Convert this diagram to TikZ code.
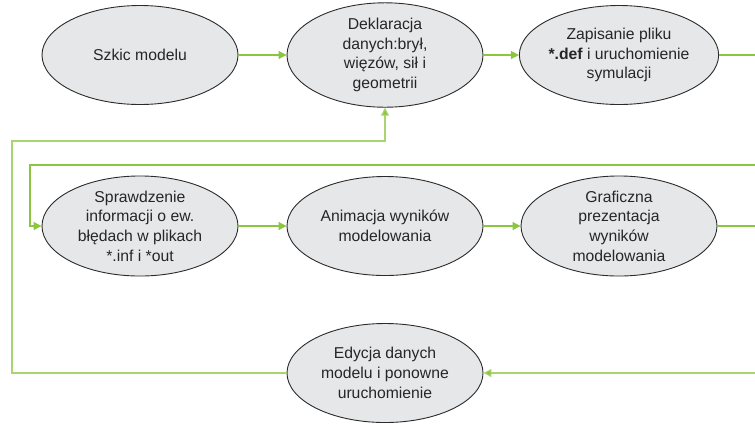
\documentclass[tikz,border=0pt]{standalone}
\usepackage{fontspec}
\setmainfont{Liberation Sans}
\usetikzlibrary{shapes.geometric,arrows.meta}
\definecolor{gfill}{HTML}{E6E7E8}
\definecolor{gline}{HTML}{8CC63F}
\definecolor{gpale}{HTML}{A9D46F}
\definecolor{edge}{HTML}{2B2B2B}
\tikzset{
  proc/.style={ellipse, draw=edge, line width=0.9bp, fill=gfill, minimum width=196bp, minimum height=99bp, inner sep=0pt, align=center, text=black!85, font=\fontsize{15.8}{19.8}\selectfont},
  flow/.style={draw=gline, line width=1.1bp, -{Triangle[length=8bp,width=8bp]}},
  flowpale/.style={draw=gpale, line width=1.1bp, -{Triangle[length=8bp,width=8bp,fill=gline]}},
  plain/.style={draw=gline, line width=1.1bp},
  plainpale/.style={draw=gpale, line width=1.1bp}
}
\begin{document}
\begin{tikzpicture}[x=1bp,y=-1bp]
\useasboundingbox (0,0) rectangle (755,424);
\node[proc] (a) at (140,55) {Szkic modelu};
\node[proc] (b) at (385,55) {Deklaracja\\danych:brył,\\więzów, sił i\\geometrii};
\node[proc] (c) at (619,55) {Zapisanie pliku\\\textbf{*.def} i uruchomienie\\symulacji};
\node[proc] (d) at (140,226) {Sprawdzenie\\informacji o ew.\\błędach w plikach\\*.inf i *out};
\node[proc] (e) at (385,226) {Animacja wyników\\modelowania};
\node[proc] (f) at (619,226) {Graficzna\\prezentacja\\wyników\\modelowania};
\node[proc] (g) at (385,373) {Edycja danych\\modelu i ponowne\\uruchomienie};
\coordinate (cR) at (755,55);
\coordinate (fR) at (755,226);
\coordinate (loopR) at (755,165);
\coordinate (loopL) at (30,165);
\coordinate (gR) at (755,373);
\coordinate (outTop) at (12,141);
\coordinate (outBot) at (12,373);
\draw[flow] (a) -- (b);
\draw[flow] (b) -- (c);
\draw[plain] (c.east) -- (cR);
\draw[flow] (d) -- (e);
\draw[flow] (e) -- (f);
\draw[plain] (f.east) -- (fR);
\draw[flow] (loopR) -- (loopL) |- (d.west);
\draw[flowpale] (gR) -- (g.east);
\draw[flowpale] (g.west) -- (outBot) -- (outTop) -| (b.south);
\end{tikzpicture}
\end{document}
